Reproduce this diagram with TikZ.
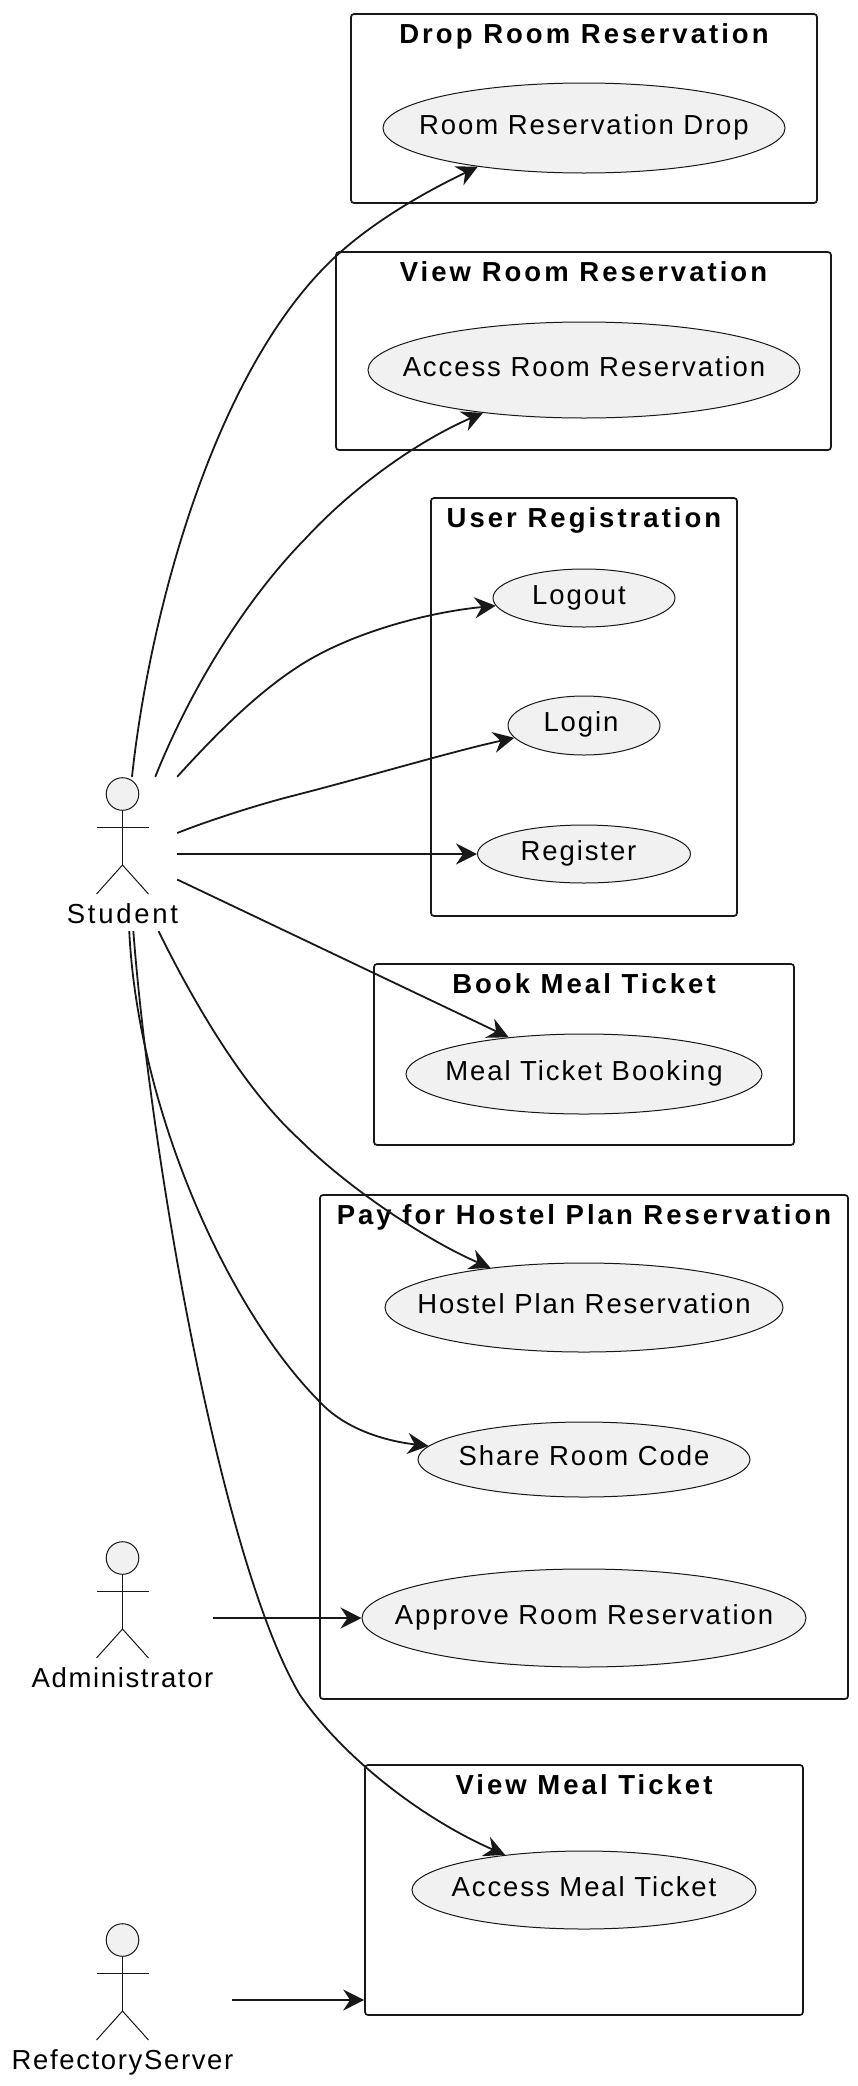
\documentclass[tikz,border=0pt]{standalone}
\usepackage{fontspec}
\setmainfont{Liberation Sans}[LetterSpace=7, BoldFeatures={LetterSpace=11}]
\usetikzlibrary{arrows.meta,shapes.geometric}

\definecolor{inkcol}{HTML}{181818}
\definecolor{fillcol}{HTML}{F1F1F1}

\tikzset{
        actor/.pic = {
            \draw[inkcol, line width=1pt, fill=fillcol] (0, -60) circle (16.3);
            \draw[inkcol, line width=1pt] (-26, -27) -- (26, -27);
            \draw[inkcol, line width=1pt] (0, -43.5) -- (0, 11);
            \draw[inkcol, line width=1pt] (-26, 40) -- (0, 11) -- (26, 40);
        },
        actorbox/.style = {rectangle, minimum height=154pt, inner sep=0pt},
        actorname/.style = {anchor=base, text=black, inner sep=0pt, font=\fontsize{27.5}{33}\selectfont\addfontfeature{LetterSpace=6}},
        groupbox/.style = {draw=inkcol, line width=1.7pt, rounded corners=3pt, rectangle, inner sep=0pt},
        grouptitle/.style = {anchor=base, text=black, inner sep=0pt, font=\bfseries\fontsize{27.5}{33}\selectfont},
        usecase/.style = {draw=inkcol, line width=1pt, fill=fillcol, ellipse, inner sep=0pt,
            text=black, text height=22pt, text depth=10pt, font=\fontsize{27.5}{33}\selectfont},
        link/.style = {draw=inkcol, line width=1.8pt, -{Stealth[length=21pt, width=21pt, inset=7pt]}}
    }

\begin{document}
\begin{tikzpicture}[x=1pt, y=-1pt]
            \useasboundingbox (0,0) rectangle (858,2086);

            % actors
            \foreach \name/\wid/\cy/\txt in {student/109/854/\addfontfeature{LetterSpace=10}Student,admin/181/1618/Administrator,refectory/219/2000/RefectoryServer} {
                \node[actorbox, minimum width=\wid pt] (\name) at (122.5,\cy) {};
                \draw (\name.center) pic {actor};
                \node[actorname] (\name-label) at ([yshift=-69pt]\name.center) {\txt};
            };

            % groups
            \foreach \name/\wid/\hgt/\cx/\cy/\txt in {
                    drop/466/189/584/108.5/Drop Room Reservation,
                    viewroom/495/198/583.5/351/View Room Reservation,
                    registration/306/418/584/707/User Registration,
                    book/420/181/584/1054.5/Book Meal Ticket,
                    pay/528/504/584/1447/Pay for Hostel Plan Reservation,
                    viewmeal/438/250/584/1890/View Meal Ticket} {
                \node[groupbox, minimum width=\wid pt, minimum height=\hgt pt] (\name-box) at (\cx,\cy) {};
                \node[grouptitle] (\name-title) at ([yshift=-30pt]\name-box.north) {\txt};
            };

            % use cases
            \foreach \name/\wid/\hgt/\cy/\txt in {
                    roomdrop/402/90/128/Room Reservation Drop,
                    roomaccess/432/96/370/Access Room Reservation,
                    logout/182/58/598/Logout\hspace{10pt},
                    login/152/59/725.5/Login\hspace{6pt},
                    register/213/58/854/Register\hspace{11pt},
                    mealbooking/356/80/1074/Meal Ticket Booking,
                    hostelplan/398/89/1307.5/Hostel Plan Reservation,
                    sharecode/332/75/1459.5/Share Room Code,
                    approve/444/98/1618/Approve Room Reservation,
                    mealaccess/344/78/1890/Access Meal Ticket} {
                \node[usecase, minimum width=\wid pt, minimum height=\hgt pt] (\name) at (584,\cy) {\makebox[0pt][c]{\txt}};
            };

            \coordinate (viewmeal-port) at (viewmeal-box.west |- refectory.east);

            % associations
            \draw[link] (student.83.7) .. controls (150,610) and (215,370) .. (334,258) .. controls (380,215) and (440,185) .. (roomdrop.200.4);
            \draw[link] (student.67.8) .. controls (190,690) and (245,600) .. (306,538) .. controls (355,485) and (420,440) .. (roomaccess.203.3);
            \draw[link] (student.north east) .. controls (215,735) and (255,695) .. (296,668) .. controls (350,632) and (430,612) .. (logout.185);
            \draw[link] (student.21) .. controls (210,820) and (260,804) .. (296,795) .. controls (370,776) and (450,752) .. (login.190.6);
            \draw[link] (student.east) -- (register.west);
            \draw[link] (student.-25.5) -- (mealbooking.154.6);
            \draw[link] (student.-65.2) .. controls (195,1005) and (245,1090) .. (300,1140) .. controls (350,1190) and (430,1242) .. (hostelplan.157);
            \draw[link] (student.-85.9) .. controls (138,1110) and (228,1310) .. (320,1402) .. controls (345,1429) and (385,1441) .. (sharecode.175.5);
            \draw[link] (student.-82.2) .. controls (150,1150) and (220,1560) .. (300,1695) .. controls (345,1760) and (425,1820) .. (mealaccess.156);
            \draw[link] (admin.east) -- (approve.west);
            \draw[link] (refectory.east) -- (viewmeal-port);

        \end{tikzpicture}
\end{document}
